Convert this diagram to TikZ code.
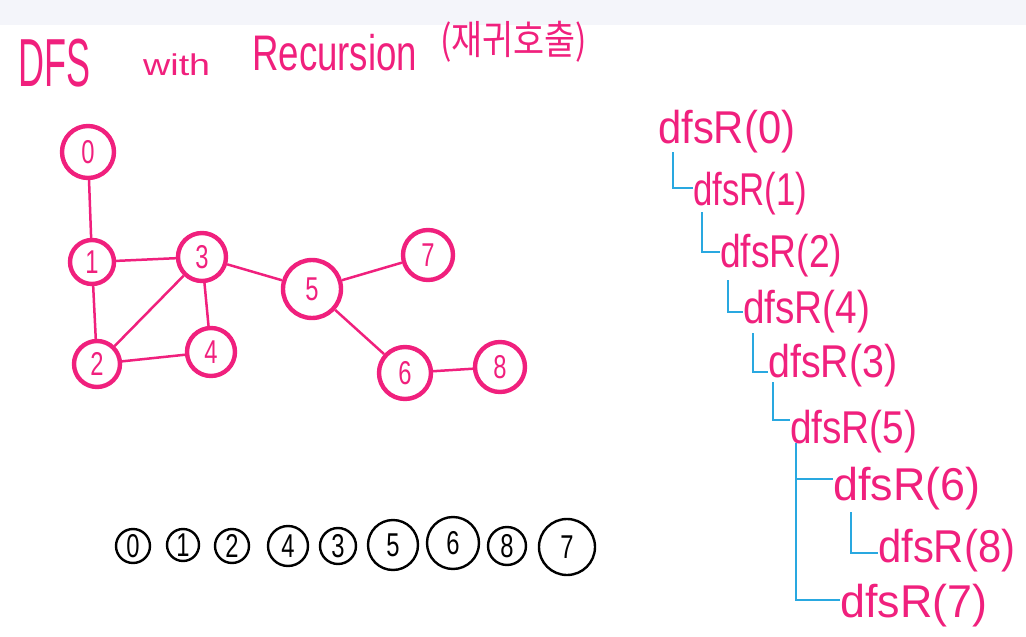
\documentclass[tikz,border=0pt]{standalone}
\usepackage{graphicx}
\usepackage{fontspec}
\setmainfont{Liberation Sans}
\newfontfamily\cjk{Noto Sans CJK KR}
\definecolor{hpink}{RGB}{240,32,125}
\definecolor{tblue}{RGB}{41,168,224}
\definecolor{bandgrey}{RGB}{244,245,250}
\newcommand\nd[1]{\scalebox{0.72}[1]{#1}}
\newcommand\fitw[2]{\resizebox{#1}{\height}{#2}}
\begin{document}
\begin{tikzpicture}[x=1pt,y=-1pt,
  gnode/.style={circle,draw=hpink,line width=4.4pt,text=hpink,inner sep=0pt,font=\fontsize{33}{33}\selectfont},
  gedge/.style={draw=hpink,line width=2.5pt},
  bnode/.style={circle,draw=black,line width=2.4pt,inner sep=0pt,font=\fontsize{33}{33}\selectfont},
  call/.style={anchor=base west,inner sep=0pt,text=hpink,font=\fontsize{46}{46}\selectfont},
  tree/.style={draw=tblue,line width=2.6pt},
  ttl/.style={anchor=base west,inner sep=0pt,text=hpink}]
\useasboundingbox (0,0) rectangle (1026,637);
\fill[bandgrey] (0,0) rectangle (1026,25);

% title
\node[ttl,font=\fontsize{68}{68}\selectfont] (tA) at (18,86) {\fitw{72pt}{DFS}};
\node[ttl,font=\fontsize{30}{30}\selectfont] (tB) at (143,75) {\fitw{67pt}{with}};
\node[ttl,font=\fontsize{50}{50}\selectfont] (tC) at (252,70) {\fitw{165pt}{Recursion}};
\node[ttl,font=\cjk\fontsize{40}{40}\selectfont] (tD) at (440,54) {\fitw{147pt}{(재귀호출)}};

% graph
\node[gnode,minimum size=52pt] (g0) at (88,152) {\nd{0}};
\node[gnode,minimum size=44pt] (g1) at (92,262) {\nd{1}};
\node[gnode,minimum size=48pt] (g3) at (202,257) {\nd{3}};
\node[gnode,minimum size=58pt] (g5) at (312,289) {\nd{5}};
\node[gnode,minimum size=50pt] (g7) at (428,255) {\nd{7}};
\node[gnode,minimum size=46pt] (g2) at (97,364) {\nd{2}};
\node[gnode,minimum size=48pt] (g4) at (211,352) {\nd{4}};
\node[gnode,minimum size=52pt] (g6) at (405,373) {\nd{6}};
\node[gnode,minimum size=50pt] (g8) at (500,367) {\nd{8}};
\draw[gedge] (g0) -- (g1);
\draw[gedge] (g1) -- (g3);
\draw[gedge] (g1) -- (g2);
\draw[gedge] (g3) -- (g2);
\draw[gedge] (g3) -- (g4);
\draw[gedge] (g2) -- (g4);
\draw[gedge] (g3) -- (g5);
\draw[gedge] (g5) -- (g7);
\draw[gedge] (g5) -- (g6);
\draw[gedge] (g6) -- (g8);

% visit order
\node[bnode,minimum size=34pt] (b0) at (133,546) {\nd{0}};
\node[bnode,minimum size=32pt] (b1) at (183,545) {\nd{1}};
\node[bnode,minimum size=34pt] (b2) at (232,546) {\nd{2}};
\node[bnode,minimum size=40pt] (b4) at (288,546) {\nd{4}};
\node[bnode,minimum size=36pt] (b3) at (338,546) {\nd{3}};
\node[bnode,minimum size=50pt] (b5) at (393,545) {\nd{5}};
\node[bnode,minimum size=52pt] (b6) at (453,543) {\nd{6}};
\node[bnode,minimum size=38pt] (b8) at (507,546) {\nd{8}};
\node[bnode,minimum size=56pt] (b7) at (567,547) {\nd{7}};

% call tree
\node[call] (t0) at (658,143) {\fitw{137pt}{dfsR(0)}};
\node[call] (t1) at (693,205) {\fitw{114pt}{dfsR(1)}};
\node[call] (t2) at (720,267) {\fitw{122pt}{dfsR(2)}};
\node[call] (t4) at (743,323) {\fitw{127pt}{dfsR(4)}};
\node[call] (t3) at (768,377) {\fitw{129pt}{dfsR(3)}};
\node[call] (t5) at (790,443) {\fitw{127pt}{dfsR(5)}};
\node[call] (t6) at (833,500) {\fitw{147pt}{dfsR(6)}};
\node[call] (t8) at (878,562) {\fitw{137pt}{dfsR(8)}};
\node[call] (t7) at (840,617) {\fitw{147pt}{dfsR(7)}};

\draw[tree] ([xshift=15pt,yshift=-9pt]t0.base west) |- ([yshift=17pt]t1.base west);
\draw[tree] ([xshift=9pt,yshift=-7pt]t1.base west) |- ([yshift=15pt]t2.base west);
\draw[tree] ([xshift=8pt,yshift=-13pt]t2.base west) |- ([yshift=11pt]t4.base west);
\draw[tree] ([xshift=10pt,yshift=-10pt]t4.base west) |- ([yshift=5pt]t3.base west);
\draw[tree] ([xshift=5pt,yshift=-5pt]t3.base west) |- ([yshift=23pt]t5.base west);
\draw[tree] ([xshift=6pt]t5.base west) |- ([yshift=17pt]t7.base west);
\coordinate (v5) at ([xshift=6pt]t5.base west);
\coordinate (h6) at ([yshift=21pt]t6.base west);
\draw[tree] (v5 |- h6) -- (h6);
\draw[tree] ([xshift=18pt,yshift=-12pt]t6.base west) |- ([yshift=9pt]t8.base west);
\end{tikzpicture}
\end{document}
